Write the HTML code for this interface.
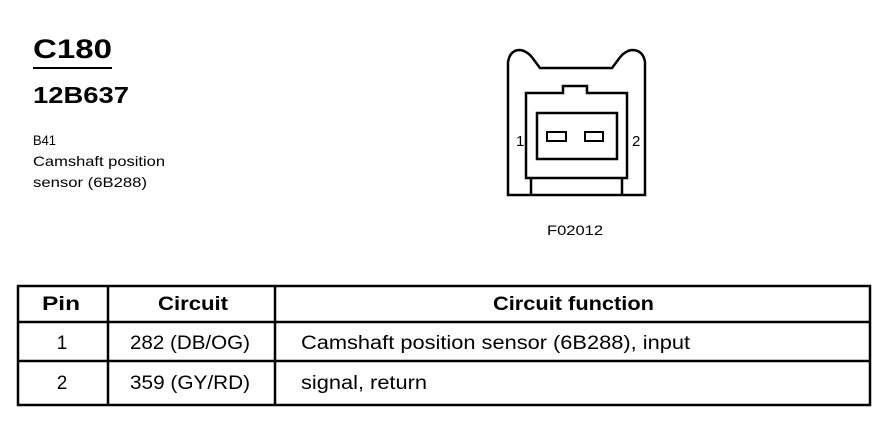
<!DOCTYPE html>
<html><head><meta charset="utf-8"><style>body{margin:0;background:#fff}svg{display:block}</style></head><body>
<svg width="892" height="432" xmlns="http://www.w3.org/2000/svg" font-family="Liberation Sans, Arial, sans-serif">
<rect width="892" height="432" fill="#fff"/>
<text x="33" y="58" font-size="27" font-weight="bold" textLength="79" lengthAdjust="spacingAndGlyphs">C180</text>
<line x1="33" y1="68" x2="112" y2="68" stroke="#000" stroke-width="2"/>
<text x="33" y="103" font-size="23" font-weight="bold" textLength="96" lengthAdjust="spacingAndGlyphs">12B637</text>
<text x="33" y="145" font-size="14" textLength="23" lengthAdjust="spacingAndGlyphs">B41</text>
<text x="33" y="166" font-size="14" textLength="132" lengthAdjust="spacingAndGlyphs">Camshaft position</text>
<text x="33" y="187" font-size="14" textLength="114" lengthAdjust="spacingAndGlyphs">sensor (6B288)</text>
<g fill="none" stroke="#000" stroke-width="2.5">
<path d="M508,195 L508,62 Q510,50 520,50 Q528,51 534,60 L540,68 L612,68 L618,60 Q624,51 632,50 Q643,50 645,62 L645,195 Z"/>
<path d="M526,178 L526,93 L563,93 L563,86 L587,86 L587,93 L627,93 L627,178 Z"/>
<path d="M531,178 L531,195 M622,178 L622,195"/>
<rect x="537" y="113" width="80" height="46"/>
<rect x="547" y="132" width="19" height="9" stroke-width="2"/>
<rect x="585" y="132" width="18" height="9" stroke-width="2"/>
</g>
<text x="516" y="146" font-size="15">1</text>
<text x="632" y="146" font-size="15">2</text>
<text x="547" y="235" font-size="14" textLength="56" lengthAdjust="spacingAndGlyphs">F02012</text>
<g stroke="#000" stroke-width="2.5" fill="none">
<rect x="18" y="286" width="852" height="119"/>
<line x1="18" y1="322" x2="870" y2="322"/>
<line x1="18" y1="361" x2="870" y2="361"/>
<line x1="108" y1="286" x2="108" y2="405"/>
<line x1="275" y1="286" x2="275" y2="405"/>
</g>
<g font-size="19" lengthAdjust="spacingAndGlyphs">
<text x="42" y="310" font-weight="bold" textLength="38" lengthAdjust="spacingAndGlyphs">Pin</text>
<text x="158" y="310" font-weight="bold" textLength="70" lengthAdjust="spacingAndGlyphs">Circuit</text>
<text x="493" y="310" font-weight="bold" textLength="161" lengthAdjust="spacingAndGlyphs">Circuit function</text>
<text x="62" y="349" text-anchor="middle">1</text>
<text x="130" y="349" textLength="120" lengthAdjust="spacingAndGlyphs">282 (DB/OG)</text>
<text x="301" y="349" textLength="389" lengthAdjust="spacingAndGlyphs">Camshaft position sensor (6B288), input</text>
<text x="62" y="389" text-anchor="middle">2</text>
<text x="130" y="389" textLength="120" lengthAdjust="spacingAndGlyphs">359 (GY/RD)</text>
<text x="301" y="389" textLength="126" lengthAdjust="spacingAndGlyphs">signal, return</text>
</g>
</svg>
</body></html>
